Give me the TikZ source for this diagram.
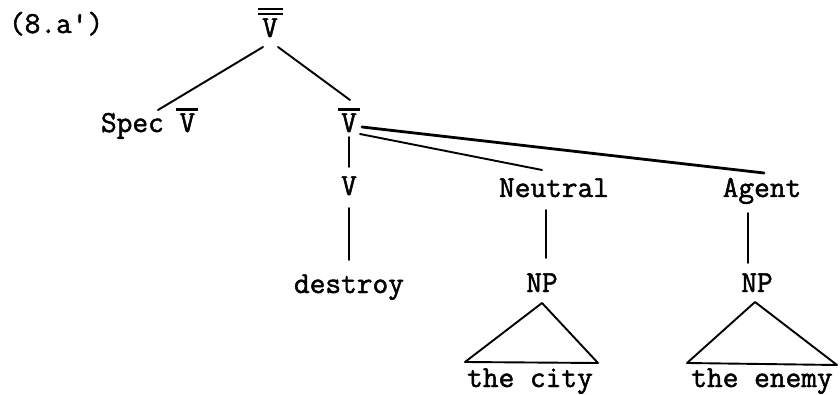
\documentclass[tikz,border=0pt]{standalone}
\usepackage{fontspec}
\newfontfamily\typew[FakeBold=1.6]{Latin Modern Mono}
\usetikzlibrary{calc}
\newcommand{\ob}[1]{\setbox0\hbox{#1}\vbox{\offinterlineskip\hbox to\wd0{\hss\vrule width 22pt height 2.4pt\hss}\kern 2.6pt\box0}}
\newcommand{\obb}[1]{\setbox0\hbox{#1}\vbox{\offinterlineskip\hbox to\wd0{\hss\vrule width 25pt height 2.4pt\hss}\kern 2.6pt\hbox to\wd0{\hss\vrule width 25pt height 2.4pt\hss}\kern 3.2pt\box0}}
\begin{document}
\begin{tikzpicture}[x=1pt,y=-1pt,
  lbl/.style={inner sep=0pt,outer sep=0pt,anchor=base,font=\typew\fontsize{30.5}{33}\selectfont},
  edge/.style={line width=1.9pt,line cap=round},
  tri/.style={line width=1.9pt,line join=round}]
\useasboundingbox (0,0) rectangle (840,395);
\node[lbl,anchor=base west] (ex) at (9,33) {(8.a')};
\node[lbl] (top) at (270,37) {\obb{V}};
\node[lbl,anchor=base west] (spec) at (101,132) {Spec \ob{V}};
\node[lbl] (mid) at (349,132) {\ob{V}};
\node[lbl] (v) at (349,195) {V};
\node[lbl] (neutral) at (554,197) {Neutral};
\node[lbl] (agent) at (762,197) {Agent};
\node[lbl] (destroy) at (349,293) {destroy};
\node[lbl] (np1) at (542,292) {NP};
\node[lbl] (np2) at (757,292) {NP};
\node[lbl] (city) at (530,387) {the city};
\node[lbl] (enemy) at (762,387) {the enemy};
% connectors
\draw[edge] ($(top.base)+(-7,10)$) -- ($(spec.base west)+(57,-22)$);
\draw[edge] ($(top.base)+(8,10)$) -- ($(mid.base)+(1,-32)$);
\draw[edge] ($(mid.base)+(0,5)$) -- ($(v.base)+(0,-28)$);
\draw[edge] ($(mid.base)+(11,2)$) -- ($(neutral.base)+(-12,-27)$);
\draw[edge,line width=2.8pt] ($(mid.base)+(13,-5)$) -- ($(agent.base)+(2,-24)$);
\draw[edge] ($(v.base)+(0,13)$) -- ($(destroy.base)+(0,-33)$);
\draw[edge] ($(neutral.base)+(-8,13)$) -- ($(np1.base)+(4,-34)$);
\draw[edge] ($(agent.base)+(-14,16)$) -- ($(np2.base)+(-9,-29)$);
% triangles
\draw[tri] ($(np1.base)+(0,11)$) -- ($(city.base)+(-65,-25)$) -- ($(city.base)+(68,-24)$) -- cycle;
\draw[tri] ($(np2.base)+(-2,10)$) -- ($(enemy.base)+(-75,-24)$) -- ($(enemy.base)+(75,-22)$) -- cycle;
\end{tikzpicture}
\end{document}
